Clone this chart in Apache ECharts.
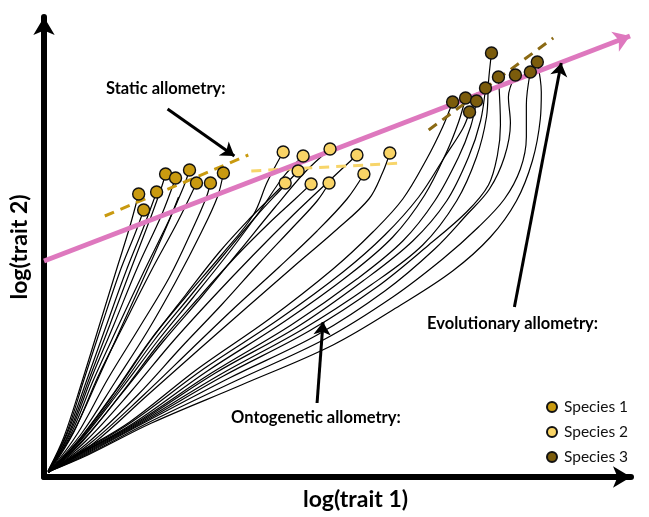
<!DOCTYPE html>
<html><head><meta charset="utf-8">
<script src="https://cdn.jsdelivr.net/npm/echarts@6/dist/echarts.min.js"></script>
<style>html,body{margin:0;padding:0;background:#fff}#c{width:649px;height:517px}</style>
</head><body><div id="c"></div>
<script>
// Conceptual allometry diagram (arbitrary log units)
const speciesNames = ['Species 1', 'Species 2', 'Species 3'];
const axisTitles = ['log(trait 1)', 'log(trait 2)'];
const annotationTexts = ['Static allometry:', 'Evolutionary allometry:', 'Ontogenetic allometry:'];

// adult (end-of-growth) values per individual
const sp1Dots = [[95,283],[100,267],[113,285],[122,303],[132,299],[146,307],[153,294],[167,294],[180,304]];
const sp2Dots = [[240,325],[260,321],[287,328],[314,322],[347,324],[242,294],[255,306],[268,293],[286,294],[321,303]];
const sp3Dots = [[449,424],[456,400],[473,402],[488,405],[495,415],[443,389],[410,375],[423,379],[434,376],[427,365]];

// growth trajectories, each ends at its dot
const sp1Paths = [
  [[4,6],[20,40],[38,95],[55,150],[72,205],[86,250]],
  [[4,6],[22,42],[40,97],[58,152],[76,205],[92,245]],
  [[5,6],[24,45],[44,100],[62,150],[82,205],[100,250]],
  [[5,6],[25,44],[46,100],[66,152],[88,210],[108,262],[118,290]],
  [[5,6],[27,46],[48,100],[70,152],[94,210],[118,262]],
  [[5,6],[28,45],[50,98],[74,150],[100,205],[126,258],[140,290]],
  [[6,6],[30,45],[54,100],[80,152],[108,207],[134,255]],
  [[6,6],[34,44],[64,98],[96,150],[126,200],[150,250],[163,280]],
  [[6,6],[38,44],[72,96],[104,146],[132,195],[158,245],[174,280]]
];
const sp1Extra = [[5,6],[30,46],[55,100],[80,155],[105,210],[125,255],[135,280]];
const sp2Paths = [
  [[5,5],[34,36],[70,84],[106,136],[142,180],[178,222],[210,262],[224,295]],
  [[5,5],[38,38],[76,86],[114,136],[150,180],[186,225],[218,268],[240,300]],
  [[5,5],[40,38],[80,86],[120,136],[158,180],[196,226],[232,270],[262,305]],
  [[5,5],[42,36],[86,84],[128,134],[168,178],[210,222],[250,262],[286,296]],
  [[5,5],[50,34],[104,82],[156,128],[204,170],[250,210],[292,246],[326,278],[340,305]],
  [[5,5],[36,38],[72,86],[108,138],[142,182],[176,225],[206,258],[228,280]],
  [[5,5],[37,38],[74,86],[110,136],[146,180],[182,224],[214,262],[240,290]],
  [[5,5],[39,36],[78,84],[116,134],[154,178],[192,220],[226,254],[252,278]],
  [[5,5],[46,36],[94,82],[138,130],[178,172],[216,214],[250,250],[274,276]],
  [[5,5],[48,35],[100,82],[148,128],[192,170],[236,210],[274,246],[304,278]]
];
const sp3Paths = [
  [[4,5],[40,24],[96,54],[176,102],[260,148],[328,192],[380,232],[414,276],[434,320],[444,360],[446,395]],
  [[4,5],[40,23],[98,54],[180,101],[266,146],[334,190],[386,232],[424,265],[446,292],[455,322],[458,352]],
  [[4,5],[42,23],[100,54],[186,99],[274,142],[342,186],[392,228],[424,262],[447,288],[462,320],[468,354],[466,380]],
  [[4,5],[42,22],[104,54],[192,96],[282,138],[350,180],[400,218],[436,250],[462,278],[478,308],[484,340],[484,372]],
  [[4,5],[44,22],[108,54],[198,92],[290,132],[358,172],[410,206],[448,240],[474,276],[490,316],[498,358],[499,385]],
  [[4,5],[38,24],[94,54],[172,104],[254,150],[320,196],[370,236],[404,276],[426,320],[438,356]],
  [[4,5],[36,25],[86,55],[154,108],[226,158],[290,208],[330,245],[360,278],[384,318],[400,350]],
  [[4,5],[37,24],[90,54],[164,106],[242,156],[306,202],[350,240],[382,282],[404,325],[416,355]],
  [[4,5],[38,24],[92,54],[168,104],[248,152],[314,198],[360,236],[392,276],[416,320],[428,350]],
  [[4,5],[36,24],[88,55],[160,108],[236,158],[300,205],[342,242],[376,280],[402,320],[420,348]]
];

// static allometry fits (per species), evolutionary allometry line
const sp1Fit = [[61,261],[205,322]];
const sp2Fit = [[208,306],[361,314]];
const sp3Fit = [[386,347],[511,439]];
const evoLine = [[0,216],[588,441]];

// annotation arrows: [from, to]
const staticArrow = [[124,368],[191,321]];
const evoArrow = [[472,170],[519,414]];
const ontoArrow = [[274,74],[280,155]];

const colors = ['#C99A10', '#F9D466', '#7B5C0C'];
const fitColors = ['#C99A10', '#F7D56A', '#8B6A14'];

const series = [];
function addPaths(paths, dots, name) {
  paths.forEach((p, i) => {
    series.push({type: 'line', name: name + ' growth', data: p.concat([dots[i]]), smooth: 0.35,
      symbol: 'none', silent: true, z: 2, lineStyle: {color: '#000', width: 1.2}});
  });
}
addPaths(sp1Paths, sp1Dots, speciesNames[0]);
addPaths(sp2Paths, sp2Dots, speciesNames[1]);
addPaths(sp3Paths, sp3Dots, speciesNames[2]);
series.push({type: 'line', name: 'extra growth', data: sp1Extra, smooth: 0.35, symbol: 'none', silent: true, z: 2,
  lineStyle: {color: '#000', width: 1.2}});

[sp1Fit, sp2Fit, sp3Fit].forEach((f, i) => {
  series.push({type: 'line', name: speciesNames[i] + ' static fit', data: f, symbol: 'none', silent: true, z: 3,
    lineStyle: {color: fitColors[i], width: 3, type: [10, 7]}});
});

series.push({type: 'lines', coordinateSystem: 'cartesian2d', name: 'evolutionary', z: 4, silent: true,
  symbol: ['none', 'arrow'], symbolSize: [14, 16],
  lineStyle: {color: '#DE78BE', width: 5, opacity: 1},
  data: [{coords: evoLine}]});

series.push({type: 'lines', coordinateSystem: 'cartesian2d', name: 'pointers', z: 6, silent: true,
  symbol: ['none', 'arrow'], symbolSize: [10, 13],
  lineStyle: {color: '#000', width: 3, opacity: 1},
  data: [{coords: staticArrow}, {coords: evoArrow}, {coords: ontoArrow}]});

[sp1Dots, sp2Dots, sp3Dots].forEach((d, i) => {
  series.push({type: 'scatter', name: speciesNames[i], data: d, symbolSize: 12, z: 8,
    itemStyle: {color: colors[i], borderColor: '#111', borderWidth: 1.4, opacity: 1}});
});

const boldFont = 'Lato';
const chart = echarts.init(document.getElementById('c'));
chart.setOption({
  animation: false,
  backgroundColor: '#fff',
  grid: {left: 42, right: 18, top: 17, bottom: 40, containLabel: false},
  xAxis: {type: 'value', min: 0, max: 589, name: axisTitles[0], nameLocation: 'middle', nameGap: 11,
    nameTextStyle: {fontFamily: boldFont, fontWeight: 'bold', fontSize: 23, color: '#000', padding: [0, 0, 0, 36]},
    splitLine: {show: false}, axisTick: {show: false}, axisLabel: {show: false},
    axisLine: {show: true, symbol: ['none', 'arrow'], symbolSize: [16, 18], lineStyle: {color: '#000', width: 6}}},
  yAxis: {type: 'value', min: 0, max: 460, name: axisTitles[1], nameLocation: 'middle', nameGap: 13,
    nameTextStyle: {fontFamily: boldFont, fontWeight: 'bold', fontSize: 23, color: '#000'},
    splitLine: {show: false}, axisTick: {show: false}, axisLabel: {show: false},
    axisLine: {show: true, symbol: ['none', 'arrow'], symbolSize: [16, 18], lineStyle: {color: '#000', width: 6}}},
  legend: {data: speciesNames, orient: 'vertical', left: 546, top: 399, itemWidth: 14, itemHeight: 10, itemGap: 9,
    padding: 0, textStyle: {fontFamily: boldFont, fontSize: 15.5, color: '#111'}},
  graphic: [
    {type: 'text', left: 106, top: 80, style: {text: annotationTexts[0], font: 'bold 16.5px Lato', fill: '#000'}},
    {type: 'text', left: 427, top: 315, style: {text: annotationTexts[1], font: 'bold 16.5px Lato', fill: '#000'}},
    {type: 'text', left: 231, top: 409, style: {text: annotationTexts[2], font: 'bold 16.5px Lato', fill: '#000'}}
  ],
  series: series
});
</script></body></html>
